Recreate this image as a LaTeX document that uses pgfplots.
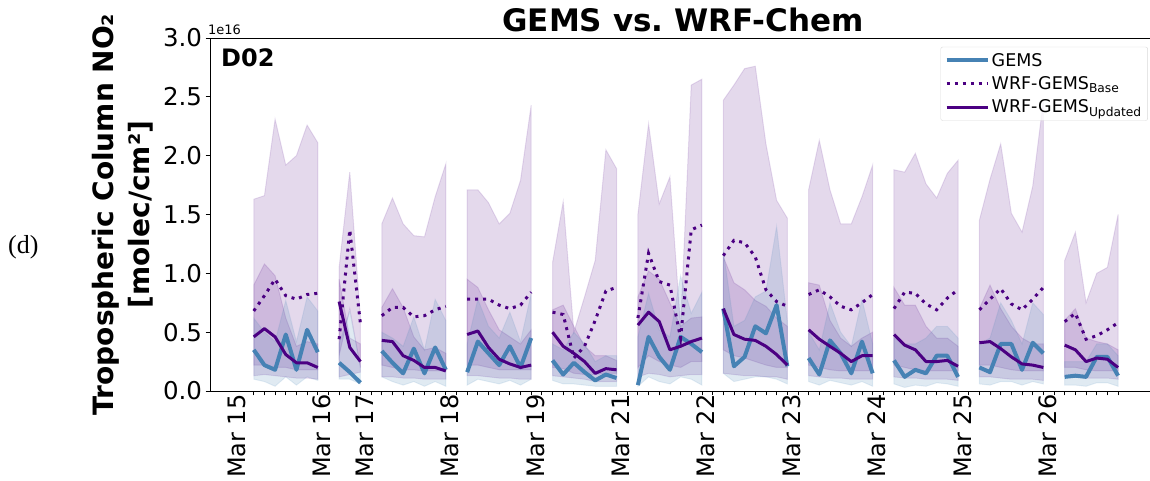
\documentclass[border=0pt]{standalone}
\usepackage{pgfplots}
\usepackage{pgfplotstable}
\usepackage{fontspec}
\setmainfont{DejaVu Sans}
\newfontfamily\serif{Liberation Serif}
\pgfplotsset{compat=1.18}
\usepgfplotslibrary{fillbetween}

\definecolor{gems}{RGB}{70,130,180}
\definecolor{wrf}{RGB}{75,0,130}

% one table per day: i = hour index, G/B/U = means, l/u = band bounds (x 1e16)
\pgfplotstableread{
i  G   Gl  Gu  B   Bl  Bu   U   Ul  Uu
0  .35 .10 .62 .68 .22 1.63 .46 .13 .90
1  .22 .08 .50 .81 .22 1.66 .53 .14 1.08
2  .18 .04 .42 .95 .20 2.31 .46 .13 .98
3  .48 .12 .77 .81 .20 1.92 .31 .12 .62
4  .18 .05 .42 .78 .18 2.00 .24 .11 .38
5  .52 .12 .80 .82 .18 2.26 .24 .11 .42
6  .33 .09 .68 .83 .18 2.11 .20 .10 .40
}\segA
\pgfplotstableread{
i  G   Gl  Gu  B    Bl  Bu   U   Ul  Uu
8  .24 .10 .40 .44  .30 1.05 .76 .12 .95
9  .16 .10 .68 1.37 .70 1.86 .37 .14 .45
10 .07 .06 .20 .57  .20 .62  .25 .16 .40
}\segB
\pgfplotstableread{
i  G   Gl  Gu  B   Bl  Bu   U   Ul  Uu
12 .34 .12 .50 .64 .22 1.42 .43 .12 .71
13 .24 .08 .45 .71 .20 1.64 .42 .12 .87
14 .15 .05 .38 .71 .18 1.42 .30 .11 .71
15 .36 .08 .63 .63 .18 1.32 .26 .11 .46
16 .15 .04 .35 .64 .17 1.31 .20 .10 .35
17 .37 .08 .78 .69 .17 1.65 .20 .10 .37
18 .18 .04 .60 .72 .17 1.93 .17 .10 .32
}\segC
\pgfplotstableread{
i  G   Gl  Gu  B   Bl  Bu   U   Ul  Uu
20 .16 .05 .40 .78 .22 1.71 .48 .13 .95
21 .42 .10 .78 .78 .22 1.71 .51 .13 .88
22 .32 .08 .55 .78 .20 1.60 .37 .12 .69
23 .22 .06 .45 .73 .18 1.42 .27 .11 .52
24 .38 .09 .67 .70 .18 1.51 .23 .11 .46
25 .20 .05 .42 .73 .18 1.79 .20 .10 .40
26 .45 .10 .83 .84 .18 2.43 .22 .10 .52
}\segD
\pgfplotstableread{
i  G   Gl  Gu  B   Bl  Bu   U   Ul  Uu
28 .26 .09 .40 .67 .20 1.09 .50 .13 .69
29 .14 .06 .35 .65 .19 1.61 .38 .12 .73
30 .24 .06 .50 .28 .15 .50  .32 .11 .55
31 .16 .05 .40 .38 .14 .80  .25 .10 .38
32 .09 .04 .25 .60 .14 1.11 .15 .08 .30
33 .14 .04 .30 .85 .15 2.05 .19 .08 .30
34 .11 .04 .30 .88 .15 1.89 .18 .08 .26
}\segE
\pgfplotstableread{
i  G   Gl  Gu  B    Bl  Bu   U   Ul  Uu
36 .05 .04 .46 .62  .20 1.50 .56 .12 .80
37 .46 .12 .83 1.17 .30 2.27 .67 .15 1.02
38 .29 .08 .52 .93  .25 1.59 .59 .14 .95
39 .18 .06 .46 .90  .22 1.82 .35 .12 .75
40 .46 .12 .98 .45  .20 .55  .38 .13 .55
41 .40 .10 .66 1.37 .25 2.60 .42 .14 .62
42 .33 .05 .84 1.41 .25 2.65 .45 .14 .63
}\segF
\pgfplotstableread{
i  G   Gl  Gu   B    Bl  Bu   U   Ul  Uu
44 .70 .15 1.20 1.15 .35 2.47 .70 .15 1.14
45 .21 .08 .55  1.28 .30 2.60 .48 .14 .92
46 .29 .10 .60  1.26 .28 2.74 .44 .13 .86
47 .55 .12 .80  1.14 .25 2.76 .43 .13 .77
48 .49 .12 .85  .86  .22 2.10 .38 .12 .72
49 .73 .10 1.40 .76  .20 1.62 .31 .12 .62
50 .21 .06 .60  .72  .20 1.47 .22 .10 .55
}\segG
\pgfplotstableread{
i  G   Gl  Gu  B   Bl  Bu   U   Ul  Uu
52 .28 .08 .50 .82 .22 1.71 .52 .13 .92
53 .14 .05 .35 .86 .20 2.13 .44 .12 .90
54 .43 .09 .75 .80 .18 1.71 .38 .11 .60
55 .32 .07 .50 .72 .17 1.42 .32 .11 .45
56 .15 .05 .38 .69 .17 1.42 .25 .10 .38
57 .42 .08 .78 .75 .17 1.65 .30 .10 .45
58 .15 .04 .40 .82 .17 1.92 .30 .10 .50
}\segH
\pgfplotstableread{
i  G   Gl  Gu  B   Bl  Bu   U   Ul  Uu
60 .26 .06 .45 .70 .22 1.88 .48 .12 .88
61 .12 .03 .40 .84 .20 1.86 .39 .11 .73
62 .18 .05 .40 .83 .18 2.02 .35 .11 .73
63 .15 .04 .45 .74 .17 1.76 .25 .10 .55
64 .30 .07 .55 .69 .17 1.64 .25 .10 .45
65 .30 .06 .55 .79 .17 1.85 .26 .10 .45
66 .12 .04 .45 .86 .17 1.96 .21 .09 .38
}\segI
\pgfplotstableread{
i  G   Gl  Gu  B   Bl  Bu   U   Ul  Uu
68 .20 .06 .40 .69 .22 1.45 .41 .12 .70
69 .16 .05 .45 .78 .22 1.80 .42 .12 .90
70 .40 .08 .75 .87 .20 2.10 .36 .11 .70
71 .40 .08 .60 .74 .18 1.51 .29 .10 .55
72 .18 .05 .40 .69 .17 1.35 .23 .10 .45
73 .41 .08 .75 .78 .17 1.74 .22 .10 .40
74 .32 .06 .65 .88 .17 2.47 .20 .09 .40
}\segJ
\pgfplotstableread{
i  G   Gl  Gu  B   Bl  Bu   U   Ul  Uu
76 .12 .05 .25 .59 .20 1.11 .39 .12 .60
77 .13 .05 .25 .66 .20 1.35 .35 .12 .70
78 .12 .04 .25 .44 .18 .75  .25 .11 .45
79 .29 .07 .40 .47 .17 1.00 .28 .11 .42
80 .29 .07 .40 .52 .17 1.05 .27 .11 .40
81 .13 .04 .30 .58 .17 1.50 .20 .10 .35
}\segK

% shaded ranges of one day
\newcommand\daybands[2]{%
  \addplot[name path=bl#2, draw=none, forget plot] table[x=i, y=Bl] {#1};
  \addplot[name path=bu#2, draw=none, forget plot] table[x=i, y=Bu] {#1};
  \addplot[name path=ul#2, draw=none, forget plot] table[x=i, y=Ul] {#1};
  \addplot[name path=uu#2, draw=none, forget plot] table[x=i, y=Uu] {#1};
  \addplot[name path=gl#2, draw=none, forget plot] table[x=i, y=Gl] {#1};
  \addplot[name path=gu#2, draw=none, forget plot] table[x=i, y=Gu] {#1};
  \addplot[fill=wrf, fill opacity=0.15, draw=wrf, draw opacity=0.12, line width=1pt, forget plot] fill between[of=bu#2 and bl#2];
  \addplot[fill=wrf, fill opacity=0.15, draw=wrf, draw opacity=0.12, line width=1pt, forget plot] fill between[of=uu#2 and ul#2];
  \addplot[fill=gems, fill opacity=0.17, draw=gems, draw opacity=0.12, line width=1pt, forget plot] fill between[of=gu#2 and gl#2];
}
% mean lines of one day
\newcommand\daylines[1]{%
  \addplot[gems, line width=4pt, line join=round, forget plot] table[x=i, y=G] {#1};
  \addplot[wrf, line width=3pt, dash pattern=on 3pt off 5pt, forget plot] table[x=i, y=B] {#1};
  \addplot[wrf, line width=3pt, line join=round, forget plot] table[x=i, y=U] {#1};
}

\begin{document}
\begin{tikzpicture}
\begin{axis}[
    at={(210pt,90pt)}, anchor=south west,
    scale only axis,
    width=945.4pt, height=353pt,
    xmin=-4.1, xmax=84.5,
    ymin=0, ymax=3,
    axis line style={line width=0.9pt},
    tick align=outside,
    xtick pos=bottom, ytick pos=left,
    xtick={0,...,81},
    xticklabels={},
    major tick length=4.5pt,
    tick style={black, line width=0.8pt},
    ytick={0,0.5,...,3},
    yticklabel style={font=\fontsize{24.5}{28}\selectfont,
      /pgf/number format/fixed, /pgf/number format/fixed zerofill,
      /pgf/number format/precision=1},
    /pgf/number format/assume math mode=true,
    extra x ticks={-1.6,6.4,10.4,18.4,26.4,34.4,42.4,50.4,58.4,66.4,74.4},
    extra x tick labels={Mar 15,Mar 16,Mar 17,Mar 18,Mar 19,Mar 21,Mar 22,Mar 23,Mar 24,Mar 25,Mar 26},
    extra x tick style={major tick length=0pt,
      xticklabel style={rotate=90, anchor=east, font=\fontsize{24}{28}\selectfont}},
    legend style={at={(0.992,0.975)}, anchor=north east,
      draw=black!15, rounded corners=2pt, fill=white, fill opacity=0.8, text opacity=1,
      font=\fontsize{17.5}{21}\selectfont, row sep=5pt, inner sep=4pt},
    legend cell align=left,
    legend image code/.code={\draw[#1] (0pt,0pt) -- (41pt,0pt);},
]
\addlegendimage{gems, line width=4pt}
\addlegendentry{GEMS}
\addlegendimage{wrf, line width=3pt, dash pattern=on 3pt off 5pt}
\addlegendentry{WRF-GEMS\textsubscript{Base}}
\addlegendimage{wrf, line width=3pt}
\addlegendentry{WRF-GEMS\textsubscript{Updated}}

\pgfplotsinvokeforeach{A,B,C,D,E,F,G,H,I,J,K}{
  \expandafter\daybands\csname seg#1\endcsname{#1}
}
\pgfplotsinvokeforeach{A,B,C,D,E,F,G,H,I,J,K}{
  \expandafter\daylines\csname seg#1\endcsname
}
\end{axis}

\node[anchor=base, inner sep=0pt, font=\bfseries\fontsize{31}{36}\selectfont] at (683pt,449pt) {GEMS vs.\ WRF-Chem};
\node[anchor=base west, inner sep=0pt, font=\bfseries\fontsize{24}{28}\selectfont] at (221pt,414.3pt) {D02};
\node[anchor=base west, inner sep=0pt, font=\fontsize{13}{15}\selectfont] at (208pt,446pt) {1e16};
\node[rotate=90, align=center, inner sep=0pt, font=\bfseries\fontsize{28}{36}\selectfont] at (123pt,266.5pt)
  {Tropospheric Column NO₂\\{}[molec/cm²]};
\node[anchor=west, inner sep=0pt, font=\serif\fontsize{26}{30}\selectfont] at (8pt,234pt) {(d)};
\pgfresetboundingbox
\useasboundingbox (0,0) rectangle (1150pt,481pt);
\end{tikzpicture}
\end{document}
